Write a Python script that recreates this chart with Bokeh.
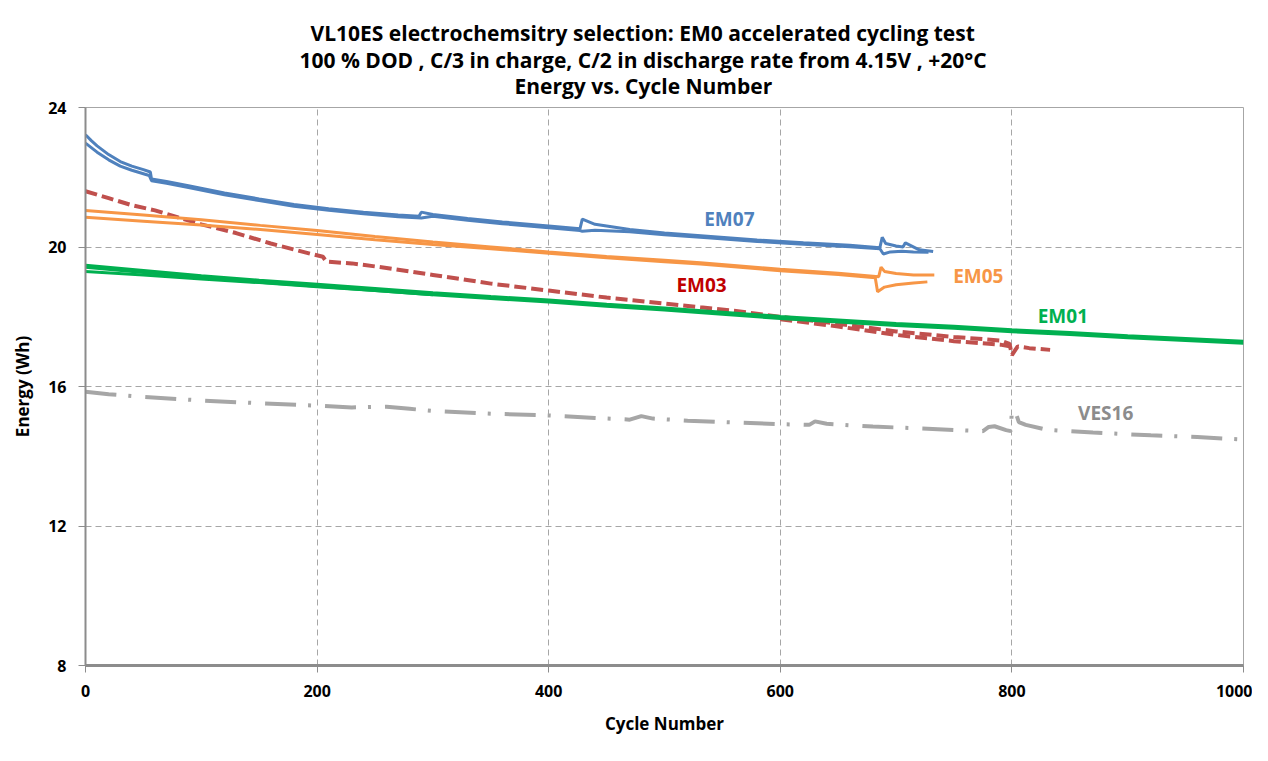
from bokeh.plotting import figure
from bokeh.models import Label, FixedTicker, Range1d, Title
from bokeh.embed import file_html
from bokeh.resources import INLINE

# ---------------- data ----------------
em07a_x = [0, 5, 10, 20, 30, 40, 50, 56, 57, 70, 90, 120, 150, 180, 210, 240, 270, 288, 290, 300, 330, 360, 400,
           427, 429, 440, 470, 500, 540, 580, 620, 660, 686, 688, 691, 700, 706, 708, 720, 732]
em07a_y = [23.22, 23.05, 22.9, 22.65, 22.45, 22.32, 22.22, 22.15, 21.95, 21.88, 21.75, 21.55, 21.38, 21.22, 21.1,
           21.0, 20.92, 20.88, 21.0, 20.93, 20.82, 20.72, 20.6, 20.52, 20.8, 20.65, 20.5, 20.4, 20.3, 20.2, 20.12,
           20.05, 19.98, 20.28, 20.1, 20.03, 20.0, 20.12, 19.92, 19.87]
em07b_x = [0, 5, 10, 20, 30, 40, 50, 55, 57, 70, 90, 120, 150, 180, 210, 240, 270, 290, 300, 330, 360, 400,
           427, 429, 440, 470, 500, 540, 580, 620, 660, 686, 689, 695, 705, 715, 728]
em07b_y = [22.98, 22.85, 22.72, 22.5, 22.32, 22.2, 22.1, 22.05, 21.9, 21.83, 21.7, 21.5, 21.33, 21.17, 21.05,
           20.95, 20.87, 20.83, 20.88, 20.77, 20.67, 20.55, 20.47, 20.45, 20.48, 20.44, 20.35, 20.26, 20.16, 20.08,
           20.01, 19.95, 19.8, 19.86, 19.88, 19.86, 19.85]

em05a_x = [0, 50, 100, 151, 200, 250, 300, 350, 400, 450, 500, 531, 560, 600, 650, 685, 687, 690, 700, 715, 733]
em05a_y = [21.05, 20.92, 20.78, 20.62, 20.47, 20.3, 20.14, 20.0, 19.86, 19.73, 19.62, 19.55, 19.47, 19.36, 19.25,
           19.15, 19.42, 19.3, 19.24, 19.2, 19.2]
em05b_x = [0, 50, 100, 151, 200, 250, 300, 350, 400, 450, 500, 531, 560, 600, 650, 682, 684, 690, 700, 715, 727]
em05b_y = [20.85, 20.74, 20.63, 20.5, 20.36, 20.21, 20.07, 19.95, 19.82, 19.69, 19.58, 19.51, 19.43, 19.32, 19.21,
           19.12, 18.72, 18.85, 18.92, 18.97, 19.0]

em03a_x = [0, 20, 40, 60, 80, 100, 130, 160, 195, 205, 208, 230, 260, 300, 350, 400, 450, 500, 531, 560, 600, 650,
           700, 750, 790, 798, 800, 805, 815, 833]
em03a_y = [21.6, 21.4, 21.2, 21.05, 20.85, 20.65, 20.4, 20.1, 19.8, 19.72, 19.58, 19.53, 19.4, 19.2, 18.95, 18.75,
           18.55, 18.38, 18.27, 18.17, 18.0, 17.8, 17.58, 17.42, 17.32, 17.22, 16.9, 17.15, 17.1, 17.05]
em03b_x = [600, 650, 700, 750, 790, 798]
em03b_y = [17.93, 17.72, 17.48, 17.3, 17.2, 17.15]

em01a_x = [0, 50, 100, 150, 200, 250, 300, 350, 400, 450, 500, 550, 600, 650, 700, 750, 800, 850, 900, 950, 1000]
em01a_y = [19.45, 19.3, 19.15, 19.02, 18.9, 18.78, 18.66, 18.55, 18.45, 18.33, 18.22, 18.1, 17.98, 17.88, 17.78,
           17.7, 17.6, 17.52, 17.43, 17.35, 17.27]
em01b_x = [0, 50, 100, 150, 200, 250, 300]
em01b_y = [19.3, 19.2, 19.08, 18.98, 18.86, 18.75, 18.63]

ves16_x = [0, 20, 50, 100, 150, 200, 230, 260, 280, 300, 350, 400, 440, 470, 480, 490, 520, 560, 600, 625, 630,
           640, 680, 720, 760, 775, 780, 785, 795, 799, 800, 803, 806, 812, 830, 870, 920, 960, 1000]
ves16_y = [15.85, 15.78, 15.7, 15.6, 15.52, 15.45, 15.4, 15.42, 15.36, 15.3, 15.22, 15.17, 15.1, 15.05, 15.15,
           15.08, 15.02, 14.97, 14.92, 14.9, 15.0, 14.93, 14.85, 14.8, 14.74, 14.72, 14.84, 14.86, 14.75, 14.72,
           15.32, 15.28, 14.98, 14.9, 14.76, 14.68, 14.6, 14.55, 14.48]

x_ticks = [0, 200, 400, 600, 800, 1000]
y_ticks = [8, 12, 16, 20, 24]

title_lines = ["VL10ES electrochemsitry selection: EM0 accelerated cycling test",
               "100 % DOD , C/3 in charge, C/2 in discharge rate from 4.15V , +20°C",
               "Energy vs. Cycle Number"]
series_names = ["EM07", "EM05", "EM03", "EM01", "VES16"]
label_x = [556, 771, 532, 844, 881]
label_y = [20.79, 19.18, 18.92, 18.01, 15.23]

# ---------------- styles ----------------
BLUE = "#4f81bd"
ORANGE = "#f79646"
RED = "#c0504d"
GREEN = "#00b050"
GRAY = "#a6a6a6"
label_colors = [BLUE, ORANGE, "#c00000", GREEN, "#8c8c8c"]
FONT = "Open Sans"

p = figure(width=1252, height=745, output_backend="svg", toolbar_location=None,
           x_range=Range1d(0, 1000), y_range=Range1d(8, 24),
           min_border_left=85, min_border_right=9, min_border_top=107, min_border_bottom=80)
p.background_fill_color = "white"
p.border_fill_color = "white"
p.outline_line_color = "#a6a6a6"
p.outline_line_width = 1

p.xaxis.ticker = FixedTicker(ticks=x_ticks)
p.yaxis.ticker = FixedTicker(ticks=y_ticks)
p.xaxis.minor_tick_line_color = None
p.yaxis.minor_tick_line_color = None
for ax in (p.xaxis[0], p.yaxis[0]):
    ax.axis_line_color = "#8c8c8c"
    ax.major_tick_line_color = "#8c8c8c"
    ax.major_tick_in = 0
    ax.major_tick_out = 7
    ax.major_label_text_font = FONT
    ax.major_label_text_font_style = "bold"
    ax.major_label_text_font_size = "16px"
    ax.major_label_text_color = "black"
    ax.axis_label_text_font = FONT
    ax.axis_label_text_font_style = "bold"
    ax.axis_label_text_font_size = "17px"
    ax.axis_label_text_color = "black"
p.xaxis.axis_line_width = 3
p.yaxis.axis_line_width = 2
p.xaxis.axis_label = "Cycle Number"
p.yaxis.axis_label = "Energy (Wh)"
p.xaxis.major_label_standoff = 12
p.yaxis.major_label_standoff = 12
p.xaxis.axis_label_standoff = 12
p.yaxis.axis_label_standoff = 11

p.xgrid.grid_line_color = "#a6a6a6"
p.ygrid.grid_line_color = "#a6a6a6"
p.xgrid.grid_line_dash = "6 4"
p.ygrid.grid_line_dash = "6 4"
p.xgrid.grid_line_width = 1
p.ygrid.grid_line_width = 1

# ---------------- series ----------------
p.line(ves16_x, ves16_y, line_color=GRAY, line_width=4, line_dash="31 12 3 14")
p.line(em03a_x, em03a_y, line_color=RED, line_width=4, line_dash="12 5")
p.line(em03b_x, em03b_y, line_color=RED, line_width=4, line_dash="12 5")
p.line(em01b_x, em01b_y, line_color=GREEN, line_width=3)
p.line(em01a_x, em01a_y, line_color=GREEN, line_width=5)
p.line(em05b_x, em05b_y, line_color=ORANGE, line_width=3)
p.line(em05a_x, em05a_y, line_color=ORANGE, line_width=3)
p.line(em07b_x, em07b_y, line_color=BLUE, line_width=3)
p.line(em07a_x, em07a_y, line_color=BLUE, line_width=3)

for name, lx, ly, c in zip(series_names, label_x, label_y, label_colors):
    p.add_layout(Label(x=lx, y=ly, text=name, text_color=c, text_font=FONT, text_font_style="bold",
                       text_font_size="19px", text_align="center", text_baseline="middle"))

# title lines (left-aligned with offsets so that they centre on the chart area); nearest line added first
title_offsets = [429, 214, 225]
title_standoffs = [15, -22, 15]
for t, off, so in zip(reversed(title_lines), title_offsets, title_standoffs):
    p.add_layout(Title(text=t, align="left", offset=off, text_color="black", text_font=FONT,
                       text_font_style="bold", text_font_size="21px", standoff=so), "above")

open("out.html", "w").write(file_html(p, INLINE))
